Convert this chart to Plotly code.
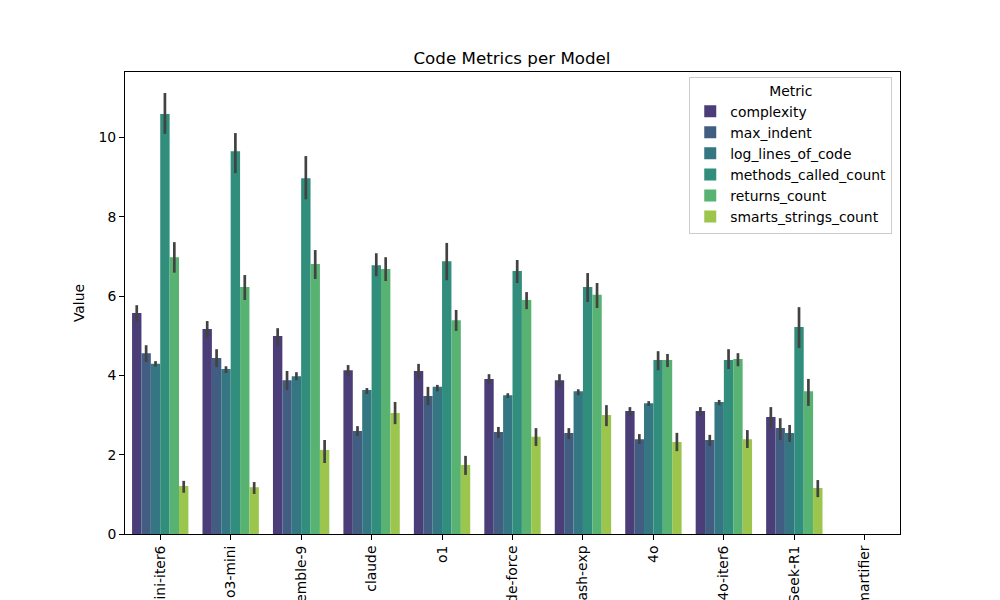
import plotly.graph_objects as go

models = ["o3-mini-iter6", "o3-mini", "ensemble-9", "claude", "o1", "code-force",
          "gemini-2.0-flash-exp", "4o", "4o-iter6", "DeepSeek-R1", "smartifier"]
metrics = ["complexity", "max_indent", "log_lines_of_code", "methods_called_count",
           "returns_count", "smarts_strings_count"]

# mean values per metric (one per model, smartifier has no data)
complexity = [5.57, 5.17, 4.99, 4.13, 4.11, 3.91, 3.88, 3.10, 3.10, 2.95, None]
max_indent = [4.56, 4.44, 3.88, 2.60, 3.48, 2.57, 2.55, 2.39, 2.37, 2.67, None]
log_lines_of_code = [4.29, 4.16, 3.98, 3.63, 3.71, 3.50, 3.60, 3.30, 3.33, 2.55, None]
methods_called_count = [10.59, 9.65, 8.97, 6.78, 6.88, 6.63, 6.23, 4.39, 4.39, 5.22, None]
returns_count = [6.98, 6.23, 6.81, 6.68, 5.39, 5.90, 6.03, 4.39, 4.41, 3.60, None]
smarts_strings_count = [1.21, 1.18, 2.12, 3.05, 1.74, 2.45, 3.00, 2.32, 2.39, 1.16, None]

# confidence interval bounds (low, high)
complexity_ci = [(5.36, 5.77), (4.95, 5.37), (4.74, 5.19), (3.98, 4.26), (3.91, 4.29), (3.78, 4.03),
                 (3.71, 4.03), (2.97, 3.20), (2.97, 3.20), (2.67, 3.20), (None, None)]
max_indent_ci = [(4.34, 4.76), (4.21, 4.66), (3.63, 4.11), (2.47, 2.72), (3.25, 3.71), (2.42, 2.70),
                 (2.39, 2.67), (2.27, 2.52), (2.22, 2.50), (2.37, 2.92), (None, None)]
log_lines_of_code_ci = [(4.22, 4.36), (4.06, 4.23), (3.88, 4.08), (3.53, 3.68), (3.60, 3.76), (3.43, 3.55),
                        (3.50, 3.65), (3.23, 3.35), (3.25, 3.38), (2.32, 2.75), (None, None)]
methods_called_count_ci = [(10.09, 11.12), (9.10, 10.11), (8.44, 9.53), (6.50, 7.08), (6.40, 7.34), (6.33, 6.91),
                           (5.85, 6.58), (4.13, 4.61), (4.16, 4.66), (4.69, 5.72), (None, None)]
returns_count_ci = [(6.59, 7.36), (5.90, 6.53), (6.43, 7.16), (6.38, 6.98), (5.12, 5.65), (5.67, 6.10),
                    (5.70, 6.33), (4.21, 4.54), (4.23, 4.56), (3.23, 3.91), (None, None)]
smarts_strings_count_ci = [(1.04, 1.34), (1.01, 1.31), (1.79, 2.37), (2.77, 3.33), (1.49, 1.97), (2.22, 2.67),
                           (2.72, 3.25), (2.09, 2.55), (2.17, 2.62), (0.93, 1.36), (None, None)]

colors = ["#4b3d77", "#425d82", "#347681", "#318d7c", "#58b272", "#9bc54d"]

values = [complexity, max_indent, log_lines_of_code, methods_called_count, returns_count, smarts_strings_count]
cis = [complexity_ci, max_indent_ci, log_lines_of_code_ci, methods_called_count_ci,
       returns_count_ci, smarts_strings_count_ci]

fig = go.Figure()
for name, vals, ci, col in zip(metrics, values, cis, colors):
    plus = [None if v is None else hi - v for v, (lo, hi) in zip(vals, ci)]
    minus = [None if v is None else v - lo for v, (lo, hi) in zip(vals, ci)]
    fig.add_trace(go.Bar(
        x=models, y=vals, name=name,
        marker=dict(color=col, line=dict(width=0)),
        error_y=dict(type="data", symmetric=False, array=plus, arrayminus=minus,
                     color="#424242", thickness=2.7, width=0),
    ))

# page body adds an 8px offset, so margins are shifted to compensate
font = "DejaVu Sans, sans-serif"
fig.update_layout(
    width=1000, height=600,
    barmode="group", bargap=0.2, bargroupgap=0,
    plot_bgcolor="white", paper_bgcolor="white",
    margin=dict(l=117, r=108, t=64, b=74),
    font=dict(family=font, size=13.9, color="black"),
    title=dict(text="Code Metrics per Model", x=0.504, xanchor="center",
               y=0.907, yanchor="bottom", font=dict(size=16.7, color="black")),
    legend=dict(
        title=dict(text="Metric", side="top center", font=dict(size=13.9)),
        x=0.99, xanchor="right", y=0.99, yanchor="top",
        bgcolor="rgba(255,255,255,0.8)", bordercolor="#cccccc", borderwidth=1,
        font=dict(size=13.9), tracegroupgap=0, itemwidth=30,
    ),
    xaxis=dict(
        range=[-0.5, 10.5], tickangle=-90, automargin=False,
        showline=True, linecolor="black", linewidth=1, mirror=True,
        ticks="outside", ticklen=5, tickwidth=1, tickcolor="black",
        showgrid=False, zeroline=False,
    ),
    yaxis=dict(
        range=[0, 11.65], dtick=2, automargin=False,
        title=dict(text="Value", standoff=10, font=dict(size=13.9)),
        showline=True, linecolor="black", linewidth=1, mirror=True,
        ticks="outside", ticklen=5, tickwidth=1, tickcolor="black",
        showgrid=False, zeroline=False,
    ),
)

fig.write_html("out.html")
